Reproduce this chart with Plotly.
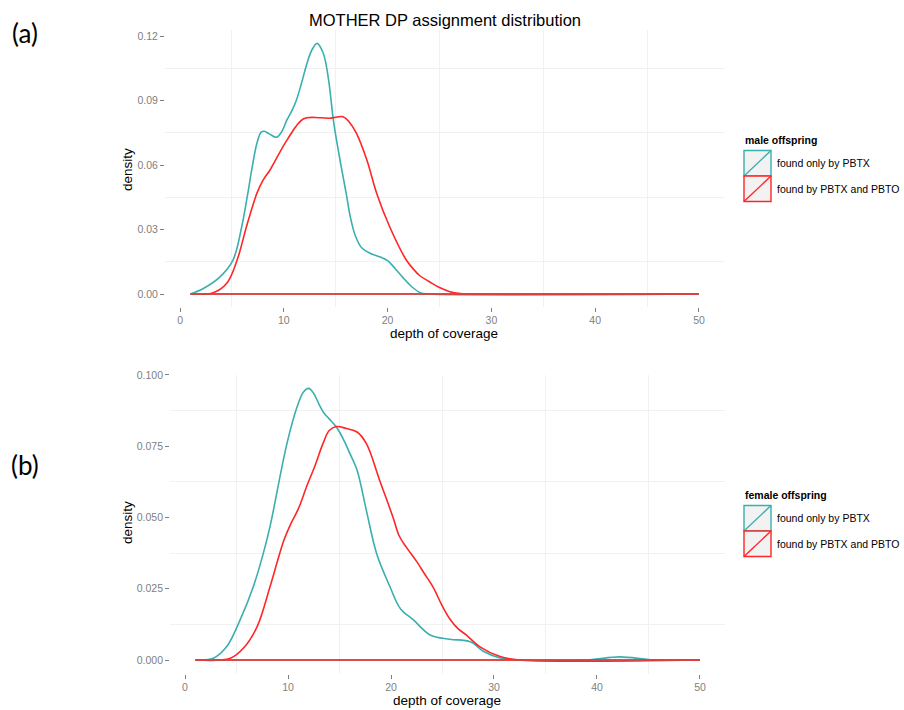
import plotly.graph_objects as go

# ---------------------------------------------------------------------------
# Density curves of depth of coverage (DP) for MOTHER assignments
# ---------------------------------------------------------------------------
series_names = ["found only by PBTX", "found by PBTX and PBTO"]
series_colors = ["#3AAFAF", "#FF2626"]

# male offspring
male_only_x = [1, 2.25, 3.85, 5.1, 5.94, 6.5, 6.95, 7.4, 7.8, 8.1, 8.6, 9.3, 9.8,
               10.3, 10.8, 11.2, 11.7, 12.2, 12.7, 13.2, 13.8, 14.3, 14.8, 15.5,
               16.0, 16.4, 16.9, 17.5, 18.3, 19.3, 20.0, 20.7, 21.5, 22.3, 23.2,
               24.0, 50]
male_only_y = [0.0, 0.0026, 0.008, 0.0158, 0.0313, 0.046, 0.059, 0.07, 0.0752,
               0.0757, 0.0745, 0.0729, 0.0755, 0.081, 0.0855, 0.09, 0.098, 0.1068,
               0.1135, 0.1166, 0.112, 0.1, 0.08, 0.06, 0.047, 0.036, 0.027, 0.0215,
               0.019, 0.0172, 0.0155, 0.012, 0.0075, 0.0035, 0.0005, 0.0, 0.0]

male_both_x = [1, 3.2, 4.5, 5.5, 6.4, 7.4, 8.0, 8.67, 10.3, 11.9, 13.5, 14.5, 15.7,
               16.3, 17.0, 18.0, 18.95, 20.2, 21.8, 22.5, 23.1, 24.0, 25.0, 26.0,
               27.0, 28.0, 50]
male_both_y = [0.0, 0.0006, 0.005, 0.0158, 0.0313, 0.0468, 0.053, 0.0577, 0.0716,
               0.0815, 0.082, 0.0818, 0.0825, 0.080, 0.0747, 0.0623, 0.0468, 0.0313,
               0.0158, 0.0115, 0.0085, 0.0058, 0.003, 0.0011, 0.0002, 0.0, 0.0]

# female offspring
female_only_x = [1, 2.75, 4.05, 5.34, 6.63, 7.6, 8.25, 9.9, 10.9, 11.5, 12.0, 12.5,
                 13.0, 13.5, 14.0, 14.5, 15.0, 15.5, 16.0, 16.7, 17.6, 18.6, 19.9,
                 20.9, 22.2, 23.8, 25.7, 27.7, 29.0, 30.5, 32.0, 39.0, 42.2, 45.5, 50]
female_only_y = [0.0, 0.0006, 0.0047, 0.014, 0.0257, 0.0374, 0.0468, 0.076, 0.089,
                 0.094, 0.0953, 0.0935, 0.0898, 0.0866, 0.0846, 0.0826, 0.08, 0.0765,
                 0.0725, 0.0667, 0.0526, 0.0374, 0.0257, 0.0181, 0.014, 0.0088,
                 0.0073, 0.0064, 0.003, 0.0008, 0.0, 0.0, 0.0011, 0.0, 0.0]

female_both_x = [1, 4.4, 5.66, 7.0, 8.25, 9.0, 9.6, 10.3, 11.0, 11.8, 12.6, 13.4,
                 14.0, 14.7, 15.7, 16.7, 17.6, 18.9, 20.2, 20.8, 21.5, 22.5, 23.3,
                 24.1, 24.9, 25.7, 26.5, 27.3, 28.6, 30.6, 32.5, 50]
female_both_y = [0.0, 0.0006, 0.0041, 0.0117, 0.0257, 0.035, 0.042, 0.048, 0.053,
                 0.0608, 0.068, 0.076, 0.0805, 0.0819, 0.0812, 0.080, 0.076, 0.063,
                 0.05, 0.0435, 0.0395, 0.0345, 0.03, 0.0255, 0.0195, 0.0145, 0.011,
                 0.0088, 0.0047, 0.0012, 0.0, 0.0]

x_ticks = [0, 10, 20, 30, 40, 50]
x_minor = [5, 15, 25, 35, 45]
top_y_ticks = [0.0, 0.03, 0.06, 0.09, 0.12]
top_y_minor = [0.015, 0.045, 0.075, 0.105]
bot_y_ticks = [0.0, 0.025, 0.05, 0.075, 0.1]
bot_y_minor = [0.0125, 0.0375, 0.0625, 0.0875]

W, H = 904, 710
FONT = "Liberation Sans"
TICK_GREY = "#808080"


def px(x):
    return x / W


def py(y):
    return 1 - y / H


fig = go.Figure()


def add_panel(xs, ys, xa, ya):
    for i, (x, y) in enumerate(zip(xs, ys)):
        # density outline: the curve itself
        fig.add_trace(go.Scatter(
            x=x, y=y, mode="lines", xaxis=xa, yaxis=ya,
            line=dict(color=series_colors[i], width=1.6, shape="spline", smoothing=1.0),
            showlegend=False, hoverinfo="skip"))
    for i, x in enumerate(xs):
        # ...and its baseline
        fig.add_trace(go.Scatter(
            x=[x[0], x[-1]], y=[0, 0], mode="lines", xaxis=xa, yaxis=ya,
            line=dict(color=series_colors[i], width=1.6),
            showlegend=False, hoverinfo="skip"))


add_panel([male_only_x, male_both_x], [male_only_y, male_both_y], "x", "y")
add_panel([female_only_x, female_both_x], [female_only_y, female_both_y], "x2", "y2")

axis_common = dict(
    showline=False, zeroline=False, showgrid=False,
    ticks="outside", ticklen=4, tickcolor=TICK_GREY, tickwidth=1,
    tickfont=dict(family=FONT, size=10.5, color=TICK_GREY),
)
grid_minor = dict(showgrid=True, gridcolor="#F1F1F1", gridwidth=1, ticks="")

fig.update_layout(
    width=W, height=H,
    margin=dict(l=0, r=0, t=0, b=0, autoexpand=False),
    paper_bgcolor="white", plot_bgcolor="white",
    showlegend=False,
    xaxis=dict(domain=[px(165), px(724.4)], range=[-1.45, 52.45], anchor="y",
               tickvals=x_ticks, minor=dict(tickvals=x_minor, **grid_minor), **axis_common),
    yaxis=dict(domain=[py(306.6), py(29.8)], range=[-0.00585, 0.1229], anchor="x",
               tickvals=top_y_ticks, tickformat=".2f",
               minor=dict(tickvals=top_y_minor, **grid_minor), **axis_common),
    xaxis2=dict(domain=[px(170.1), px(725.2)], range=[-1.45, 52.45], anchor="y2",
                tickvals=x_ticks, minor=dict(tickvals=x_minor, **grid_minor), **axis_common),
    yaxis2=dict(domain=[py(673.6), py(374.7)], range=[-0.00477, 0.1001], anchor="x2",
                tickvals=bot_y_ticks, tickformat=".3f",
                minor=dict(tickvals=bot_y_minor, **grid_minor), **axis_common),
)

annotations = []
shapes = []


def text(x, y, s, size, color="black", family=FONT, angle=0, xanchor="center", bold=False):
    if bold:
        s = "<b>" + s + "</b>"
    annotations.append(dict(
        x=px(x), y=py(y), xref="paper", yref="paper", text=s, showarrow=False,
        xanchor=xanchor, yanchor="middle", textangle=angle,
        font=dict(family=family, size=size, color=color)))


# titles and axis labels
text(444.5, 20, "MOTHER DP assignment distribution", 16.5)
text(444, 333, "depth of coverage", 13.5)
text(447, 700, "depth of coverage", 13.5)
text(127, 170, "density", 13.5, angle=-90)
text(127, 523, "density", 13.5, angle=-90)

# panel tags
text(25, 33, "(a)", 26, family="Lato")
text(25, 465, "(b)", 26, family="Lato")


def legend_block(title, title_y, box_top):
    text(743, title_y, title, 10.5, xanchor="left", bold=True)
    x0, x1, h = 744, 771, 25.5
    for i, name in enumerate(series_names):
        y0 = box_top + i * h
        y1 = y0 + h
        c = series_colors[i]
        shapes.append(dict(type="rect", xref="paper", yref="paper",
                           x0=px(x0), x1=px(x1), y0=py(y1), y1=py(y0),
                           fillcolor="#F2F2F2", line=dict(color=c, width=1.4)))
        shapes.append(dict(type="line", xref="paper", yref="paper",
                           x0=px(x0), x1=px(x1), y0=py(y1), y1=py(y0),
                           line=dict(color=c, width=1.4)))
        text(775, (y0 + y1) / 2, name, 10.5, xanchor="left")


legend_block("male offspring", 140, 150.5)
legend_block("female offspring", 495, 505.5)

fig.update_layout(annotations=annotations, shapes=shapes)

fig.write_html("out.html")
